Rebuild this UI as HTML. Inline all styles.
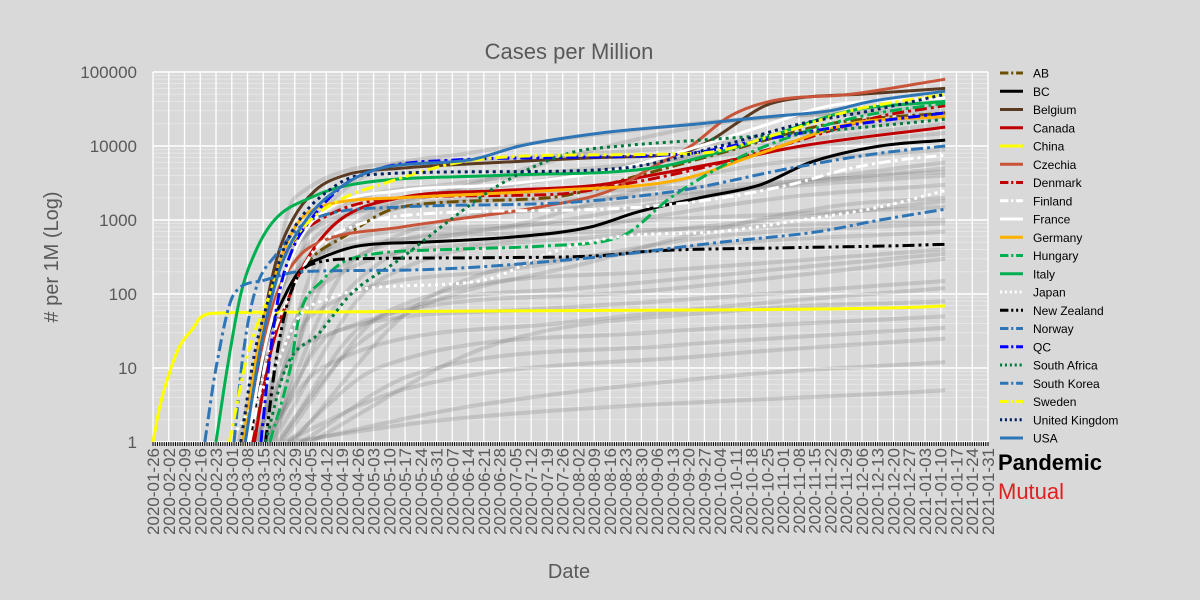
<!DOCTYPE html>
<html><head><meta charset="utf-8"><style>
body{margin:0;background:#d9d9d9;}
svg{display:block;font-family:"Liberation Sans",sans-serif;}
</style></head><body>
<svg id="c" width="1200" height="600" viewBox="0 0 1200 600">
<rect width="1200" height="600" fill="#d9d9d9"/>
<text x="569" y="59" text-anchor="middle" font-size="22" fill="#595959">Cases per Million</text>
<text x="569" y="578" text-anchor="middle" font-size="20" fill="#595959">Date</text>
<text transform="translate(58,257) rotate(-90)" text-anchor="middle" font-size="20" fill="#595959"># per 1M (Log)</text>
<g id="grid"></g><g id="bg"></g><g id="series"></g><g id="axes"></g><g id="legend"></g>
<text x="998" y="470" font-size="22" font-weight="bold" fill="#000">Pandemic</text>
<text x="998" y="499" font-size="22" fill="#e02020">Mutual</text>
</svg>
<script>
const yTicks=[1,10,100,1000,10000,100000];
const weekCount=53;
const names=["AB","BC","Belgium","Canada","China","Czechia","Denmark","Finland","France","Germany","Hungary","Italy","Japan","New Zealand","Norway","QC","South Africa","South Korea","Sweden","United Kingdom","USA"];
const colors=["#6b4e00","#000000","#5a3a22","#c00000","#ffff00","#c8553a","#c00000","#ffffff","#ffffff","#ffb000","#00b050","#00b050","#ffffff","#000000","#2e75b6","#0000ff","#007a3d","#2e75b6","#ffff00","#002060","#2e75b6"];
const dashes=["12 4 3 4","","","","","","12 4 3 4","12 4 3 4","","","12 4 3 4","","3 4","12 4 3 4 3 4","12 4 3 4","12 4 3 4","3 4","12 4 3 4","12 4 3 4","3 4",""];
const sAB=[[45,1],[52,20],[61,100],[68,250],[85,600],[110,1500],[176,2000],[216,4000],[252,8000],[301,20000],[352,28000]];
const sBC=[[43,1],[50,20],[59,100],[66,220],[74,300],[92,450],[119,500],[163,600],[194,800],[216,1300],[243,2000],[270,3000],[292,6000],[323,10000],[352,12000]];
const sBelgium=[[40,1],[48,30],[55,300],[62,1000],[72,2500],[85,4000],[110,5000],[154,6000],[199,7000],[234,8000],[248,12000],[259,20000],[272,35000],[288,45000],[314,50000],[352,60000]];
const sCanada=[[45,1],[52,15],[61,100],[70,350],[83,1000],[110,2000],[154,2500],[199,3000],[221,4000],[252,6000],[288,10000],[352,18000]];
const sChina=[[0,1],[3,3],[8,10],[12,20],[18,35],[21,48],[28,55],[60,57],[200,60],[330,65],[352,69]];
const sCzechia=[[42,1],[48,15],[55,100],[64,300],[74,500],[110,800],[132,1000],[172,1500],[203,2500],[221,5000],[239,10000],[256,25000],[274,40000],[310,50000],[352,80000]];
const sDenmark=[[44,1],[48,20],[52,100],[60,400],[74,1000],[110,2000],[176,2200],[208,3000],[243,5000],[279,10000],[323,25000],[352,35000]];
const sFinland=[[43,1],[52,20],[61,100],[72,400],[88,800],[119,1200],[199,1400],[243,1800],[283,3000],[310,5000],[332,6500],[352,7500]];
const sFrance=[[42,1],[49,15],[56,100],[66,600],[79,1500],[110,2500],[154,3000],[208,5000],[243,10000],[274,20000],[301,35000],[352,45000]];
const sGermany=[[40,1],[46,15],[52,100],[62,700],[74,1500],[110,2000],[176,2500],[234,3500],[270,8000],[310,20000],[352,25000]];
const sHungary=[[52,1],[61,10],[65,50],[75,150],[88,300],[132,400],[176,450],[208,600],[230,2000],[256,6000],[288,15000],[314,25000],[352,38000]];
const sItaly=[[28,1],[33,10],[39,100],[46,400],[54,1000],[70,2000],[88,3000],[154,4000],[221,5000],[261,10000],[310,30000],[352,40000]];
const sJapan=[[34,1],[54,10],[65,50],[80,90],[96,120],[145,150],[181,400],[208,600],[252,700],[288,1000],[323,1500],[352,2500]];
const sNZ=[[50,1],[55,15],[61,100],[70,250],[92,300],[154,310],[199,330],[221,380],[279,420],[332,450],[352,470]];
const sNorway=[[36,1],[40,15],[45,100],[55,350],[70,1000],[110,1500],[181,1700],[234,2500],[283,5000],[323,8000],[352,10000]];
const sQC=[[48,1],[52,15],[56,100],[62,400],[70,1000],[85,3000],[101,5000],[136,6500],[181,7000],[239,8000],[270,12000],[314,20000],[352,28000]];
const sSA=[[50,1],[59,10],[74,30],[88,100],[110,300],[132,1000],[154,3000],[185,8000],[208,10000],[243,12000],[288,15000],[332,20000],[352,23000]];
const sSK=[[23,1],[28,10],[36,100],[48,150],[65,200],[110,210],[190,300],[252,500],[296,700],[323,1000],[352,1400]];
const sSweden=[[34,1],[42,15],[52,100],[60,400],[70,1000],[85,2000],[101,3000],[136,6000],[181,7500],[243,8000],[279,15000],[310,30000],[352,50000]];
const sUK=[[39,1],[45,15],[52,100],[58,400],[65,1000],[78,2500],[92,4000],[154,4500],[208,5000],[252,10000],[288,20000],[319,30000],[352,50000]];
const sUSA=[[41,1],[48,20],[56,200],[68,1000],[85,3000],[101,5000],[141,6500],[163,10000],[199,15000],[243,20000],[274,25000],[301,30000],[319,40000],[352,55000]];
const seriesData=[sAB,sBC,sBelgium,sCanada,sChina,sCzechia,sDenmark,sFinland,sFrance,sGermany,sHungary,sItaly,sJapan,sNZ,sNorway,sQC,sSA,sSK,sSweden,sUK,sUSA];
const bg1=[[42,1],[60,200],[120,2000],[250,20000],[352,30000]];
const bg2=[[45,1],[70,100],[150,500],[280,2000],[352,3000]];
const bg3=[[50,1],[80,30],[200,100],[300,200],[352,300]];
const bg4=[[48,1],[75,10],[180,40],[280,80],[352,120]];
const bg5=[[55,1],[90,20],[200,300],[300,1500],[352,2000]];
const bg6=[[46,1],[70,50],[150,200],[250,600],[352,900]];
const bg7=[[60,1],[100,10],[220,30],[352,50]];
const bg8=[[52,1],[85,100],[170,1000],[260,5000],[352,9000]];
const bg9=[[44,1],[65,500],[130,3000],[220,6000],[352,15000]];
const bg10=[[58,1],[110,5],[250,15],[352,25]];
const bg11=[[62,1],[120,80],[230,400],[352,700]];
const bg12=[[40,1],[58,300],[110,1500],[200,2000],[352,4000]];
const bg13=[[56,1],[95,40],[190,120],[300,250],[352,350]];
const bg14=[[65,1],[140,3],[260,8],[352,12]];
const bg15=[[47,1],[72,1000],[140,8000],[240,20000],[352,35000]];
const bg16=[[50,1],[80,200],[160,800],[260,2500],[352,5000]];
const bg17=[[70,1],[150,20],[260,60],[352,80]];
const bg18=[[45,1],[66,20],[160,60],[352,150]];
const bg19=[[53,1],[100,150],[200,600],[300,1200],[352,1800]];
const bg20=[[38,1],[55,100],[100,500],[200,700],[352,1000]];
const bg21=[[60,1],[130,2],[352,5]];
const bg22=[[49,1],[76,400],[160,3000],[270,10000],[352,20000]];
const bg23=[[57,1],[105,60],[220,200],[352,400]];
const bg24=[[43,1],[63,2000],[120,6000],[240,10000],[352,25000]];
const bg25=[[66,1],[115,8],[230,20],[352,35]];
const bg26=[[51,1],[90,300],[190,1500],[352,6000]];
const bg27=[[54,1],[80,500],[150,2000],[260,3000],[352,4500]];
const bg28=[[47,1],[68,300],[140,800],[352,1500]];
const bgData=[bg1,bg2,bg3,bg4,bg5,bg6,bg7,bg8,bg9,bg10,bg11,bg12,bg13,bg14,bg15,bg16,bg17,bg18,bg19,bg20,bg21,bg22,bg23,bg24,bg25,bg26,bg27,bg28];

const X0=153,X1=988,Y0=442,Y1=72;
const xS=d=>X0+d*(X1-X0)/(weekCount*7);
const yS=v=>Y0-Math.log10(v)*(Y0-Y1)/5;
const NS="http://www.w3.org/2000/svg";
function mk(t,a,p){const e=document.createElementNS(NS,t);for(const k in a)e.setAttribute(k,a[k]);p.appendChild(e);return e;}
const grid=document.getElementById('grid'),axes=document.getElementById('axes');
for(let dec=0;dec<5;dec++)for(let m=2;m<10;m++){const l=mk('line',{x1:X0,x2:X1,y1:yS(m*Math.pow(10,dec)),y2:yS(m*Math.pow(10,dec)),stroke:'#e6e6e6','stroke-width':1},grid);

}
for(let w=0;w<=weekCount;w++){const l=mk('line',{x1:xS(w*7),x2:xS(w*7),y1:Y1,y2:Y0,stroke:'#fff','stroke-width':1.3},grid);

}
yTicks.forEach(v=>{const l=mk('line',{x1:X0,x2:X1,y1:yS(v),y2:yS(v),stroke:'#fff','stroke-width':1.5},grid);


const t=mk('text',{x:137,y:yS(v)+6,'text-anchor':'end','font-size':17,fill:'#595959'},axes);t.textContent=v;

});
// monotone cubic path through points (in pixel space)
function pathFor(pts){
  const P=pts.map(p=>[xS(p[0]),yS(p[1])]);const n=P.length;
  if(n<3)return P.map((p,i)=>(i?'L':'M')+p[0].toFixed(1)+','+p[1].toFixed(1)).join('');
  const d=[],m=[];
  for(let i=0;i<n-1;i++)d.push((P[i+1][1]-P[i][1])/(P[i+1][0]-P[i][0]));
  m[0]=d[0];m[n-1]=d[n-2];
  for(let i=1;i<n-1;i++)m[i]=(d[i-1]*d[i]<=0)?0:(d[i-1]+d[i])/2;
  for(let i=0;i<n-1;i++){if(d[i]===0){m[i]=0;m[i+1]=0;continue;}const a=m[i]/d[i],b=m[i+1]/d[i],s=a*a+b*b;if(s>9){const t=3/Math.sqrt(s);m[i]=t*a*d[i];m[i+1]=t*b*d[i];}}
  let s='M'+P[0][0].toFixed(1)+','+P[0][1].toFixed(1);
  for(let i=0;i<n-1;i++){const h=(P[i+1][0]-P[i][0])/3;
    s+='C'+(P[i][0]+h).toFixed(1)+','+(P[i][1]+m[i]*h).toFixed(1)+' '+(P[i+1][0]-h).toFixed(1)+','+(P[i+1][1]-m[i+1]*h).toFixed(1)+' '+P[i+1][0].toFixed(1)+','+P[i+1][1].toFixed(1);}
  return s;}
const bg=document.getElementById('bg');
bgData.forEach(s=>{const p=mk('path',{d:pathFor(s),fill:'none',stroke:'rgba(110,110,110,0.22)','stroke-width':4,'stroke-linejoin':'round'},bg);

});
const sg=document.getElementById('series');
seriesData.forEach((s,i)=>{const a={d:pathFor(s),fill:'none',stroke:colors[i],'stroke-width':3,'stroke-linejoin':'round'};if(dashes[i])a['stroke-dasharray']=dashes[i];
const p=mk('path',a,sg);

});
for(let d=0;d<=weekCount*7;d++){mk('line',{x1:xS(d),x2:xS(d),y1:Y0,y2:Y0+4,stroke:'#000','stroke-width':1},axes);}
const start=Date.UTC(2020,0,26);
for(let w=0;w<=weekCount;w++){const dt=new Date(start+w*7*864e5);const s=dt.toISOString().slice(0,10);
const t=mk('text',{transform:`translate(${xS(w*7)+6},448) rotate(-90)`,'text-anchor':'end','font-size':17,fill:'#595959'},axes);t.textContent=s;

}
const lg=document.getElementById('legend');
names.forEach((n,i)=>{const y=73+i*18.25;const a={x1:1000,x2:1023,y1:y,y2:y,stroke:colors[i],'stroke-width':3};if(dashes[i])a['stroke-dasharray']=dashes[i].split(' ').map(v=>v*0.7).join(' ');
const l=mk('line',a,lg);


const t=mk('text',{x:1033,y:y+4.5,'font-size':12,fill:'#000'},lg);t.textContent=n;

});
</script>
</body></html>
